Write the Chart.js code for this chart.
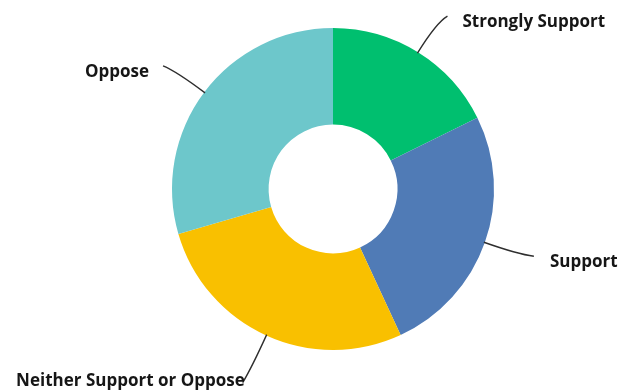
<!DOCTYPE html>
<html>
<head>
<meta charset="utf-8">
<script src="https://cdn.jsdelivr.net/npm/chart.js@4"></script>
<style>
    html, body { margin: 0; padding: 0; background: #ffffff; }
    #wrap { width: 628px; height: 391px; }
</style>
</head>
<body>
<div id="wrap"><canvas id="supportChart"></canvas></div>
<script>
// values (share of responses, %)
const categories = ['Strongly Support', 'Support', 'Neither Support or Oppose', 'Oppose'];
const shares = [17.7, 25.4, 27.4, 29.5];
const sliceColors = ['#00bf6f', '#507bb6', '#f9c000', '#6dc7cb'];

// leader line end offsets from the slice's outer midpoint, and label offsets from that end
const leaderEnds = [[30, -37], [50, 14], [-24, 48], [-42, -27]];
const labelOffsets = [[15, 6], [16, 6], [2, -1], [-14, 6]];

const leaderLabels = {
    id: 'leaderLabels',
    afterDatasetsDraw(chart) {
        let ctx = chart.ctx;
        let meta = chart.getDatasetMeta(0);
        ctx.save();
        ctx.font = 'bold 17px "Open Sans"';
        ctx.fillStyle = '#161616';
        ctx.strokeStyle = '#2e2e2e';
        ctx.lineWidth = 1.4;
        ctx.textBaseline = 'middle';
        meta.data.forEach((arc, i) => {
            let mid = (arc.startAngle + arc.endAngle) / 2;
            let ux = Math.cos(mid), uy = Math.sin(mid);
            let ax = arc.x + ux * (arc.outerRadius - 1);
            let ay = arc.y + uy * (arc.outerRadius - 1);
            let ex = ax + leaderEnds[i][0];
            let ey = ay + leaderEnds[i][1];
            let cx = ax + ux * 36;
            let cy = ay + uy * 36;
            ctx.beginPath();
            ctx.moveTo(ax, ay);
            ctx.quadraticCurveTo(cx, cy, ex, ey);
            ctx.stroke();
            ctx.textAlign = leaderEnds[i][0] > 0 ? 'left' : 'right';
            if (i === 2) ctx.textAlign = 'right';
            ctx.fillText(categories[i], ex + labelOffsets[i][0], ey + labelOffsets[i][1]);
        });
        ctx.restore();
    }
};

new Chart(document.getElementById('supportChart'), {
    type: 'doughnut',
    data: {
        labels: categories,
        datasets: [{
            data: shares,
            backgroundColor: sliceColors,
            borderWidth: 0,
            hoverOffset: 0
        }]
    },
    options: {
        responsive: true,
        maintainAspectRatio: false,
        animation: false,
        cutout: '40%',
        layout: {
            padding: { left: 172, right: 134, top: 28, bottom: 41 }
        },
        plugins: {
            legend: { display: false },
            tooltip: { enabled: false }
        }
    },
    plugins: [leaderLabels]
});
</script>
</body>
</html>
